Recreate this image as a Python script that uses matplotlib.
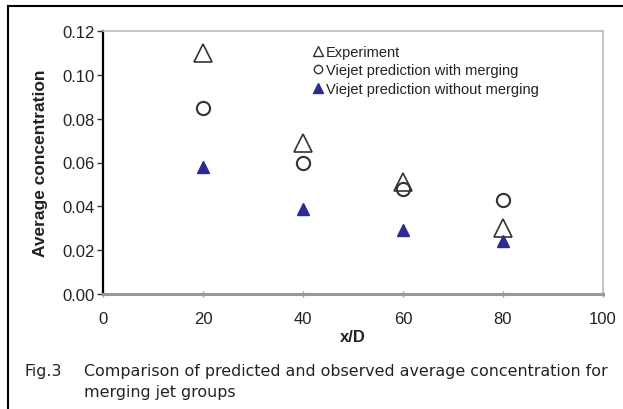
import matplotlib
matplotlib.use("Agg")
import matplotlib.pyplot as plt
from matplotlib.lines import Line2D

x_d = [20, 40, 60, 80]
experiment = [0.110, 0.069, 0.051, 0.030]
with_merging = [0.085, 0.060, 0.048, 0.043]
without_merging = [0.058, 0.039, 0.029, 0.024]
xticks = [0, 20, 40, 60, 80, 100]
yticks = [0.00, 0.02, 0.04, 0.06, 0.08, 0.10, 0.12]
legend_labels = ["Experiment", "Viejet prediction with merging", "Viejet prediction without merging"]

plt.rcParams['font.family'] = ['Liberation Sans', 'DejaVu Sans']

fig = plt.figure(figsize=(6.23, 4.10), dpi=100)
fig.patch.set_facecolor('white')

# outer frame (top and left lines)
fig.add_artist(Line2D([8/623, 1.0], [1-7/410, 1-7/410], transform=fig.transFigure, color='black', lw=1.5))
fig.add_artist(Line2D([8/623, 8/623], [0, 1-7/410], transform=fig.transFigure, color='black', lw=1.5))

ax = fig.add_axes([103/623, 1-295/410, 500/623, 263/410])
navy = '#2b2c8f'
ax.plot(x_d, experiment, linestyle='none', marker='^', markersize=12.5, markerfacecolor='white',
        markeredgecolor='#333333', markeredgewidth=1.2, clip_on=False, zorder=3)
ax.plot(x_d, with_merging, linestyle='none', marker='o', markersize=9.5, markerfacecolor='none',
        markeredgecolor='#333333', markeredgewidth=1.5, clip_on=False, zorder=3)
ax.plot(x_d, without_merging, linestyle='none', marker='^', markersize=8.5, color=navy,
        clip_on=False, zorder=4)

ax.set_xlim(0, 100)
ax.set_ylim(0, 0.12)
ax.set_xticks(xticks)
ax.set_xticklabels([str(v) for v in xticks])
ax.set_yticks(yticks)
ax.set_yticklabels([f"{v:.2f}" for v in yticks])

ax.spines['left'].set_color('black')
ax.spines['left'].set_linewidth(1.6)
ax.spines['bottom'].set_color('#999999')
ax.spines['bottom'].set_linewidth(2.2)
ax.spines['top'].set_color('#bbbbbb')
ax.spines['top'].set_linewidth(1.2)
ax.spines['right'].set_color('#bbbbbb')
ax.spines['right'].set_linewidth(1.2)

ax.tick_params(axis='y', direction='out', length=4, width=1, color='#333333', labelsize=12, pad=2,
               labelcolor='#222222')
ax.tick_params(axis='x', direction='inout', length=5, width=1, color='#999999', labelsize=12, pad=10,
               labelcolor='#222222')

ax.set_xlabel("x/D", fontsize=12, fontweight='bold', labelpad=2, color='#222222')
ax.set_ylabel("Average concentration", fontsize=12.5, fontweight='bold', labelpad=10, color='#222222')

handles = [
    Line2D([], [], linestyle='none', marker='^', markersize=7, markerfacecolor='white',
           markeredgecolor='#333333', markeredgewidth=1.0),
    Line2D([], [], linestyle='none', marker='o', markersize=6, markerfacecolor='white',
           markeredgecolor='#333333', markeredgewidth=1.0),
    Line2D([], [], linestyle='none', marker='^', markersize=7, color=navy),
]
leg = ax.legend(handles, legend_labels, loc='upper left', bbox_to_anchor=(0.41, 0.97),
                frameon=False, fontsize=10.5, handlelength=0.6, handletextpad=0.2,
                labelspacing=0.32, borderaxespad=0)
for t in leg.get_texts():
    t.set_color('#222222')

cap_fs = 11.4
fig.text(25/623, 1-372/410, "Fig.3", fontsize=cap_fs, family='DejaVu Sans', va='center', color='#222222')
fig.text(84/623, 1-372/410, "Comparison of predicted and observed average concentration for",
         fontsize=cap_fs, family='DejaVu Sans', va='center', color='#222222')
fig.text(84/623, 1-393/410, "merging jet groups", fontsize=cap_fs, family='DejaVu Sans', va='center',
         color='#222222')

fig.savefig("out.png", dpi=100, facecolor='white')
